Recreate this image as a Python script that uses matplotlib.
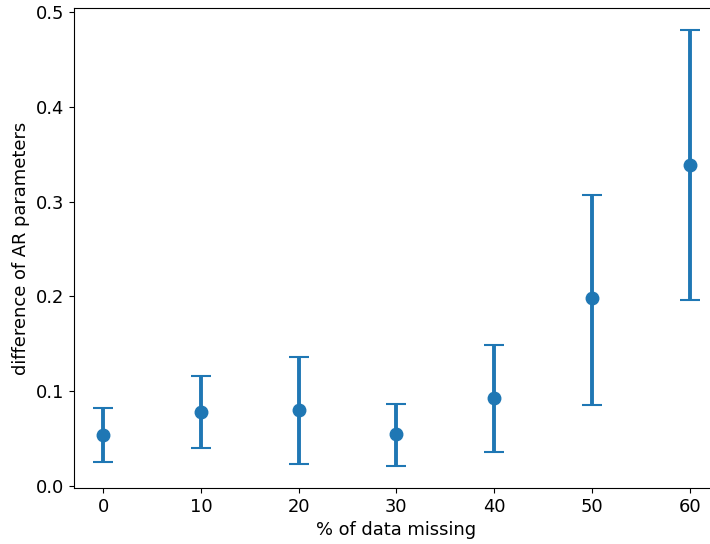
import numpy as np
import matplotlib
matplotlib.use("Agg")
import matplotlib.pyplot as plt

# % of data missing
missing = [0, 10, 20, 30, 40, 50, 60]
mean_diff = [0.054, 0.078, 0.080, 0.055, 0.093, 0.198, 0.339]
upper = [0.082, 0.116, 0.136, 0.087, 0.149, 0.307, 0.481]
lower = [0.025, 0.040, 0.023, 0.021, 0.036, 0.086, 0.196]

mean_diff = np.array(mean_diff)
yerr = [mean_diff - np.array(lower), np.array(upper) - mean_diff]

plt.rcParams['font.size'] = 12.9
fig, ax = plt.subplots(figsize=(7.1, 5.44), dpi=100)
ax.errorbar(missing, mean_diff, yerr=yerr, fmt='o', color='#1f77b4',
            markersize=9, elinewidth=2.8, capsize=7.5, capthick=1.5)
ax.set_xlabel("% of data missing")
ax.set_ylabel("difference of AR parameters")
fig.subplots_adjust(left=0.104, right=1.0127, top=0.985, bottom=0.103)
fig.savefig("out.png")
